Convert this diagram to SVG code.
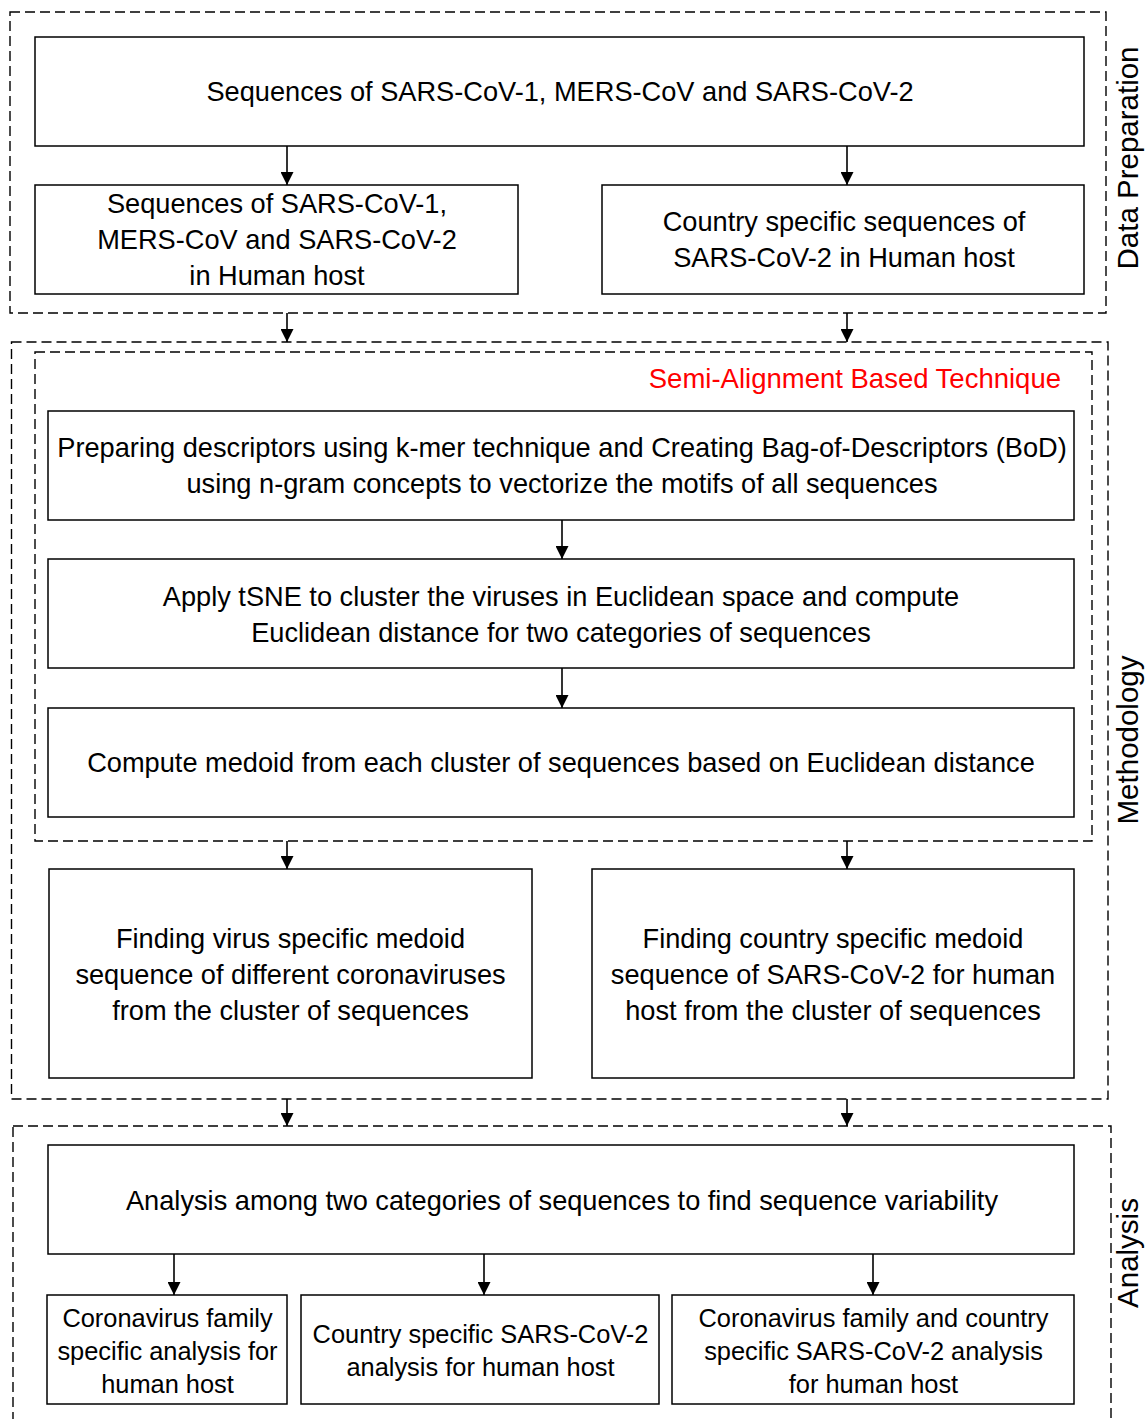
<svg xmlns="http://www.w3.org/2000/svg" width="1146" height="1419" viewBox="0 0 1146 1419">
<defs>
<style>
.bg{fill:#fff}
.box{fill:#fff;stroke:#000;stroke-width:1.5}
.dash{fill:none;stroke:#000;stroke-width:1.4;stroke-dasharray:10 5}
.t{font-family:"Liberation Sans",Arial,sans-serif;font-size:27.2px;fill:#000;text-anchor:middle}
.s{font-family:"Liberation Sans",Arial,sans-serif;font-size:25.4px;fill:#000;text-anchor:middle}
.side{font-family:"Liberation Sans",Arial,sans-serif;font-size:29.5px;fill:#000;text-anchor:middle}
.red{font-family:"Liberation Sans",Arial,sans-serif;font-size:27.5px;fill:#ff0000;text-anchor:end}
.conn{stroke:#000;stroke-width:1.6;fill:none;marker-end:url(#ah)}
</style>
<marker id="ah" markerUnits="userSpaceOnUse" markerWidth="13" markerHeight="13" refX="13" refY="6.5" orient="auto">
<path d="M0,0 L13,6.5 L0,13 z" fill="#000"/>
</marker>
</defs>
<rect class="bg" x="0" y="0" width="1146" height="1419"/>

<g id="group-data-preparation">
<rect class="dash" x="10" y="12" width="1096" height="301"/>
<text class="side" transform="translate(1138,158) rotate(-90)">Data Preparation</text>
</g>
<g id="group-methodology">
<rect class="dash" x="11.5" y="342" width="1096.5" height="757"/>
<text class="side" transform="translate(1138,740) rotate(-90)">Methodology</text>
</g>
<g id="group-semi-alignment">
<rect class="dash" x="35" y="352" width="1057" height="489"/>
<text class="red" x="1061" y="388">Semi-Alignment Based Technique</text>
</g>
<g id="group-analysis">
<rect class="dash" x="13" y="1126" width="1098" height="400"/>
<text class="side" transform="translate(1138,1253) rotate(-90)">Analysis</text>
</g>

<g id="node-sequences">
<rect class="box" x="35" y="37" width="1049" height="109"/>
<text class="t" x="560" y="101">Sequences of SARS-CoV-1, MERS-CoV and SARS-CoV-2</text>
</g>
<g id="node-human-host">
<rect class="box" x="35" y="185" width="483" height="109"/>
<text class="t" x="277" y="213">Sequences of SARS-CoV-1,</text>
<text class="t" x="277" y="249">MERS-CoV and SARS-CoV-2</text>
<text class="t" x="277" y="285">in Human host</text>
</g>
<g id="node-country-seq">
<rect class="box" x="602" y="185" width="482" height="109"/>
<text class="t" x="844" y="231">Country specific sequences of</text>
<text class="t" x="844" y="267">SARS-CoV-2 in Human host</text>
</g>
<g id="node-descriptors">
<rect class="box" x="48" y="411" width="1026" height="109"/>
<text class="t" x="562" y="457">Preparing descriptors using k-mer technique and Creating Bag-of-Descriptors (BoD)</text>
<text class="t" x="562" y="493">using n-gram concepts to vectorize the motifs of all sequences</text>
</g>
<g id="node-tsne">
<rect class="box" x="48" y="559" width="1026" height="109"/>
<text class="t" x="561" y="606">Apply tSNE to cluster the viruses in Euclidean space and compute</text>
<text class="t" x="561" y="642">Euclidean distance for two categories of sequences</text>
</g>
<g id="node-medoid">
<rect class="box" x="48" y="708" width="1026" height="109"/>
<text class="t" x="561" y="772">Compute medoid from each cluster of sequences based on Euclidean distance</text>
</g>
<g id="node-virus-medoid">
<rect class="box" x="49" y="869" width="483" height="209"/>
<text class="t" x="290.5" y="948">Finding virus specific medoid</text>
<text class="t" x="290.5" y="984">sequence of different coronaviruses</text>
<text class="t" x="290.5" y="1020">from the cluster of sequences</text>
</g>
<g id="node-country-medoid">
<rect class="box" x="592" y="869" width="482" height="209"/>
<text class="t" x="833" y="948">Finding country specific medoid</text>
<text class="t" x="833" y="984">sequence of SARS-CoV-2 for human</text>
<text class="t" x="833" y="1020">host from the cluster of sequences</text>
</g>
<g id="node-analysis">
<rect class="box" x="48" y="1145" width="1026" height="109"/>
<text class="t" x="562" y="1210">Analysis among two categories of sequences to find sequence variability</text>
</g>
<g id="node-family-analysis">
<rect class="box" x="47" y="1295" width="240" height="109"/>
<text class="s" x="167.5" y="1327">Coronavirus family</text>
<text class="s" x="167.5" y="1360">specific analysis for</text>
<text class="s" x="167.5" y="1393">human host</text>
</g>
<g id="node-country-analysis">
<rect class="box" x="301" y="1295" width="358" height="109"/>
<text class="s" x="480.5" y="1343">Country specific SARS-CoV-2</text>
<text class="s" x="480.5" y="1376">analysis for human host</text>
</g>
<g id="node-combined-analysis">
<rect class="box" x="672" y="1295" width="402" height="109"/>
<text class="s" x="873.5" y="1327">Coronavirus family and country</text>
<text class="s" x="873.5" y="1360">specific SARS-CoV-2 analysis</text>
<text class="s" x="873.5" y="1393">for human host</text>
</g>

<g id="connectors">
<line class="conn" x1="287" y1="146" x2="287" y2="185"/>
<line class="conn" x1="847" y1="146" x2="847" y2="185"/>
<line class="conn" x1="287" y1="313" x2="287" y2="342"/>
<line class="conn" x1="847" y1="313" x2="847" y2="342"/>
<line class="conn" x1="562" y1="520" x2="562" y2="559"/>
<line class="conn" x1="562" y1="668" x2="562" y2="708"/>
<line class="conn" x1="287" y1="841" x2="287" y2="869"/>
<line class="conn" x1="847" y1="841" x2="847" y2="869"/>
<line class="conn" x1="287" y1="1099" x2="287" y2="1126"/>
<line class="conn" x1="847" y1="1099" x2="847" y2="1126"/>
<line class="conn" x1="174" y1="1254" x2="174" y2="1295"/>
<line class="conn" x1="484" y1="1254" x2="484" y2="1295"/>
<line class="conn" x1="873" y1="1254" x2="873" y2="1295"/>
</g>
</svg>
